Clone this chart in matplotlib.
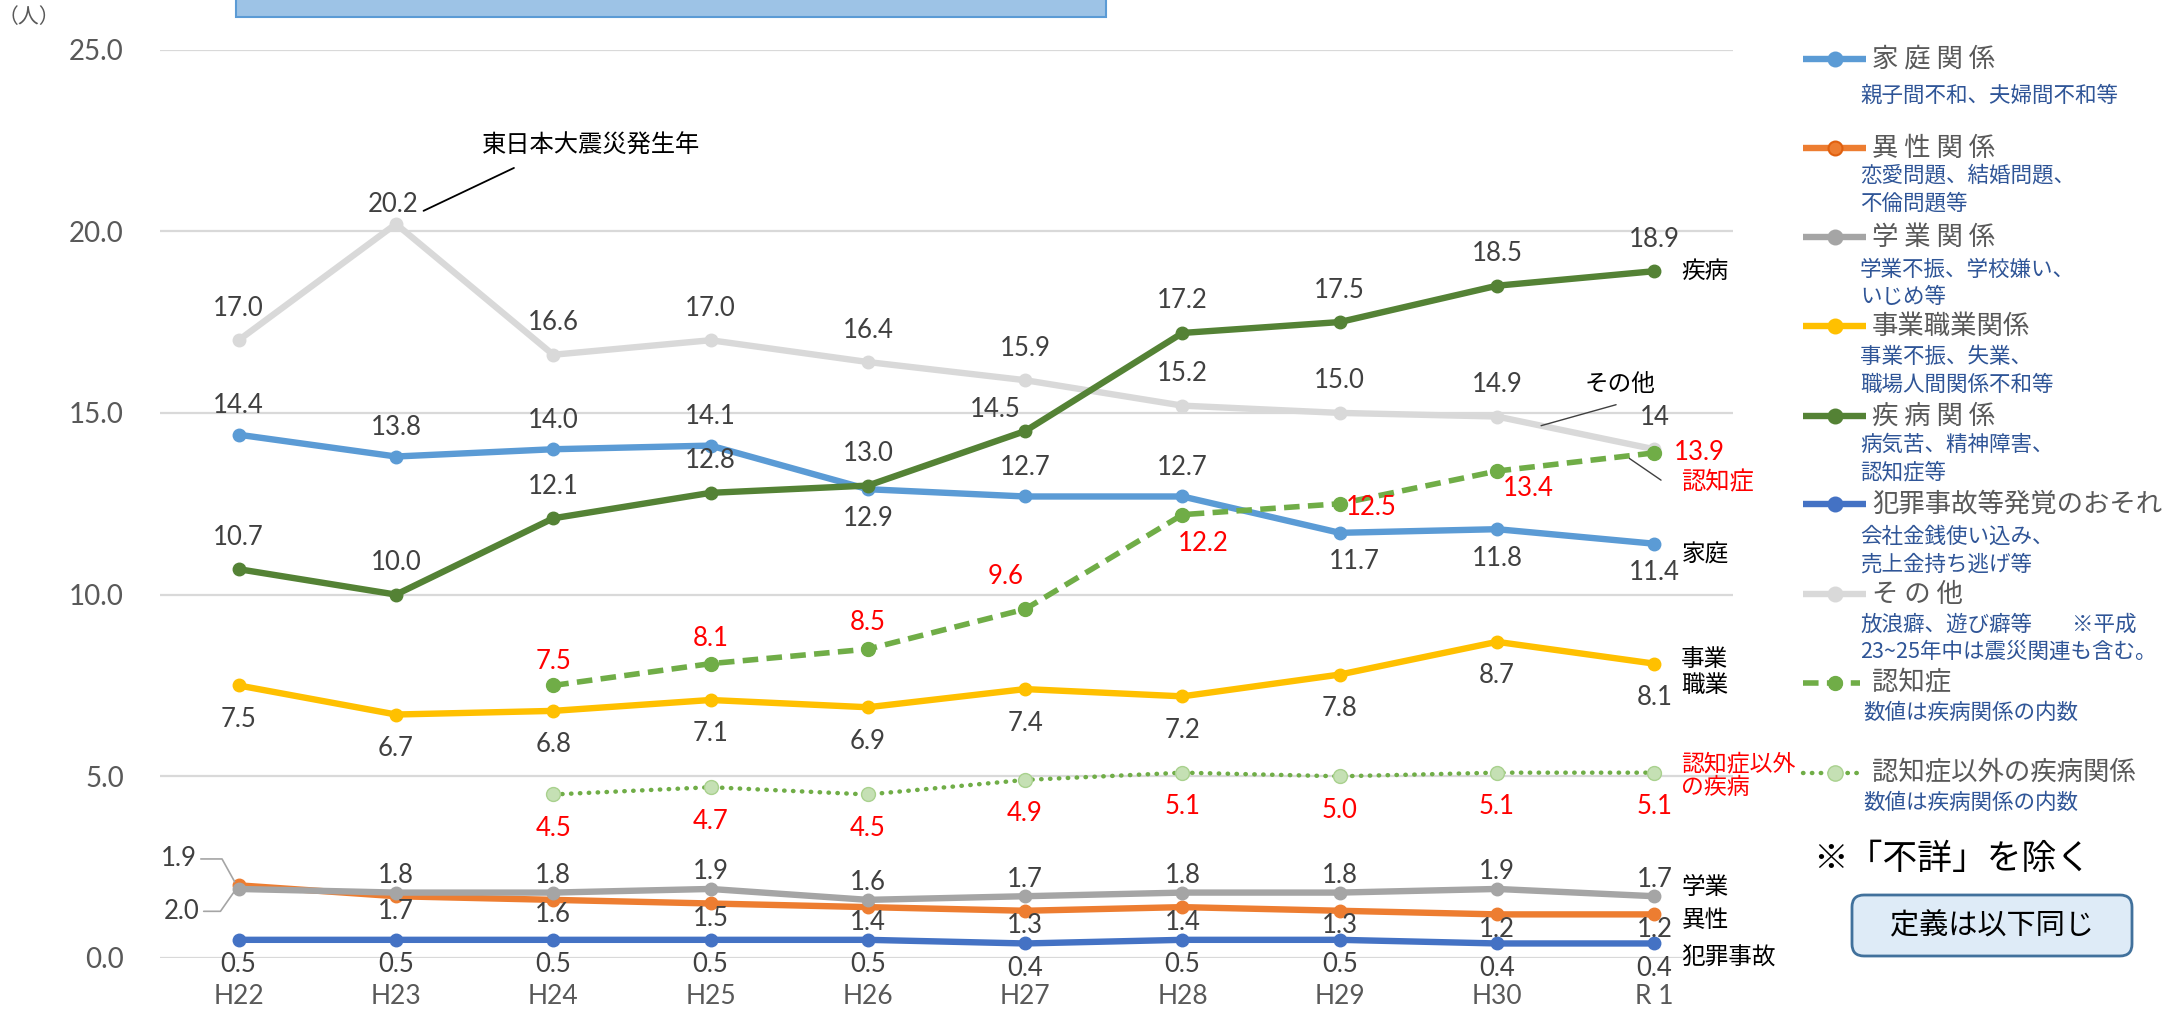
import matplotlib
matplotlib.use("Agg")
import matplotlib.pyplot as plt
from matplotlib.patches import Rectangle, FancyBboxPatch
import numpy as np

nan = np.nan

# ---- data -------------------------------------------------------------
years = ["H22", "H23", "H24", "H25", "H26", "H27", "H28", "H29", "H30", "R 1"]
family = [14.4, 13.8, 14.0, 14.1, 12.9, 12.7, 12.7, 11.7, 11.8, 11.4]
romance = [2.0, 1.7, 1.6, 1.5, 1.4, 1.3, 1.4, 1.3, 1.2, 1.2]
school = [1.9, 1.8, 1.8, 1.9, 1.6, 1.7, 1.8, 1.8, 1.9, 1.7]
work = [7.5, 6.7, 6.8, 7.1, 6.9, 7.4, 7.2, 7.8, 8.7, 8.1]
illness = [10.7, 10.0, 12.1, 12.8, 13.0, 14.5, 17.2, 17.5, 18.5, 18.9]
crime = [0.5, 0.5, 0.5, 0.5, 0.5, 0.4, 0.5, 0.5, 0.4, 0.4]
other = [17.0, 20.2, 16.6, 17.0, 16.4, 15.9, 15.2, 15.0, 14.9, 14.0]
dementia = [nan, nan, 7.5, 8.1, 8.5, 9.6, 12.2, 12.5, 13.4, 13.9]
non_dementia = [nan, nan, 4.5, 4.7, 4.5, 4.9, 5.1, 5.0, 5.1, 5.1]

y_ticks = [0, 5, 10, 15, 20, 25]

# ---- fonts / colours --------------------------------------------------
JP = ["Noto Sans CJK JP", "DejaVu Sans"]
NUM = ["Lato", "Noto Sans CJK JP", "DejaVu Sans"]
plt.rcParams["font.family"] = JP

C_FAMILY = "#5B9BD5"
C_ROMANCE = "#ED7D31"
C_SCHOOL = "#A5A5A5"
C_WORK = "#FFC000"
C_ILL = "#548235"
C_CRIME = "#4472C4"
C_OTHER = "#D9D9D9"
C_DEM = "#70AD47"
C_NONDEM = "#A9D18E"
LABEL_GRAY = "#404040"
TICK_GRAY = "#595959"
SUB_BLUE = "#2F5597"
RED = "#FF0000"

NUM_SIZE = 18.5

W, H = 2176, 1014
fig = plt.figure(figsize=(W / 100, H / 100), dpi=100)
ax = fig.add_axes([160 / W, 1 - 958 / H, (1733 - 160) / W, (958 - 49.5) / H])

x = np.arange(len(years))
LW = 4.6
MS = 9

series = [
    # values, colour, zorder
    (other, C_OTHER, 2),
    (family, C_FAMILY, 3),
    (romance, C_ROMANCE, 3),
    (work, C_WORK, 3),
    (crime, C_CRIME, 3),
    (school, C_SCHOOL, 4),
    (illness, C_ILL, 5),
]
for vals, col, z in series:
    ax.plot(x, vals, color=col, lw=LW, marker="o", ms=MS, mfc=col, mec=col,
            zorder=z, solid_capstyle="round", solid_joinstyle="round")

ax.plot(x, dementia, color=C_DEM, lw=4.0, ls=(0, (2.8, 1.5)), marker="o",
        ms=MS + 1, mfc=C_DEM, mec=C_DEM, zorder=6)
ax.plot(x, non_dementia, color=C_DEM, lw=3.2, ls=(0, (0.1, 1.9)),
        dash_capstyle="round", marker="o", ms=MS + 1, mfc="#C5E0B4",
        mec=C_NONDEM, zorder=6)

ax.set_xlim(-0.5, len(years) - 0.5)
ax.set_ylim(0, 25)
ax.set_yticks(y_ticks)
ax.set_yticklabels([f"{t:.1f}" for t in y_ticks], family=NUM, fontsize=20,
                   color=TICK_GRAY)
ax.set_xticks(x)
ax.set_xticklabels(years, family=NUM, fontsize=19, color=TICK_GRAY)
ax.tick_params(axis="y", length=0, pad=26)
ax.tick_params(axis="x", length=0, pad=19)
for s in ax.spines.values():
    s.set_visible(False)
ax.yaxis.grid(True, color="#D9D9D9", lw=1.6)
ax.set_axisbelow(True)
ax.patch.set_alpha(0)


def put(text, i, v, dx, dy, color=LABEL_GRAY, size=NUM_SIZE, fam=NUM, ha="center"):
    ax.annotate(text, xy=(i, v), xytext=(dx, dy), textcoords="offset pixels",
                ha=ha, va="center", fontsize=size, color=color, family=fam,
                zorder=10)


def leader(i, v, dx, dy, color="#404040", lw=1.0, gap=0):
    # thin callout line from a point on a series out to (dx, dy) pixels
    ax.annotate("", xy=(i, v), xytext=(dx, dy), textcoords="offset pixels",
                zorder=9,
                arrowprops=dict(arrowstyle="-", color=color, lw=lw,
                                shrinkA=0, shrinkB=gap))


def fmt(v):
    return f"{v:.1f}"


# 家庭
fam_side = [1, 1, 1, 1, -1, 1, 1, -1, -1, -1]
for i, v in enumerate(family):
    put(fmt(v), i, v, 15 if i == 7 else 0, 29 * fam_side[i])
# 疾病
for i, v in enumerate(illness):
    if i == 5:
        put(fmt(v), i, v, -30, 22)
    else:
        put(fmt(v), i, v, 0, 32)
# その他
for i, v in enumerate(other):
    txt = "14" if i == len(other) - 1 else fmt(v)
    if i == 1:
        put(txt, i, v, -3, 19)
    else:
        put(txt, i, v, 0, 32)
# 事業職業
for i, v in enumerate(work):
    put(fmt(v), i, v, 0, -34)
# 犯罪事故
for i, v in enumerate(crime):
    put(fmt(v), i, v, 0, -25)
# 学業
for i, v in enumerate(school):
    if i == 0:
        ax.annotate(fmt(v), xy=(i, v), xytext=(-60, 30),
                    textcoords="offset pixels", ha="center", va="center",
                    fontsize=NUM_SIZE, color=LABEL_GRAY, family=NUM, zorder=10,
                    arrowprops=dict(arrowstyle="-", color="#A5A5A5", lw=1.2,
                                    shrinkA=1, shrinkB=6, relpos=(1, 0.5),
                                    connectionstyle="angle,angleA=0,angleB=119,rad=0"))
    else:
        put(fmt(v), i, v, 0, 17)
# 異性
for i, v in enumerate(romance):
    if i == 0:
        ax.annotate(fmt(v), xy=(i, v), xytext=(-57, -26),
                    textcoords="offset pixels", ha="center", va="center",
                    fontsize=NUM_SIZE, color=LABEL_GRAY, family=NUM, zorder=10,
                    arrowprops=dict(arrowstyle="-", color="#A5A5A5", lw=1.2,
                                    shrinkA=1, shrinkB=6, relpos=(1, 0.5),
                                    connectionstyle="angle,angleA=0,angleB=235,rad=0"))
    else:
        put(fmt(v), i, v, 0, -15)
# 認知症
dem_off = {2: (0, 24), 3: (0, 25), 4: (0, 27), 5: (-20, 33), 6: (21, -29),
           7: (32, -4), 8: (31, -17), 9: (45, 0)}
for i, v in enumerate(dementia):
    if not np.isnan(v):
        put(fmt(v), i, v, *dem_off[i], color=RED)
# 認知症以外
for i, v in enumerate(non_dementia):
    if not np.isnan(v):
        put(fmt(v), i, v, 0, -34, color=RED)

# series names at the right end
last = len(years) - 1
put("疾病", last, illness[last], 27, 0, color="black", fam=JP, ha="left", size=17)
put("家庭", last, family[last], 27, -11, color="black", fam=JP, ha="left", size=17)
ax.annotate("事業\n職業", xy=(last, work[last]), xytext=(27, -9),
            textcoords="offset pixels", ha="left", va="center", fontsize=17,
            color="black", family=JP, linespacing=1.15, zorder=10)
put("学業", last, school[last], 27, 9, color="black", fam=JP, ha="left", size=17)
put("異性", last, romance[last], 27, -6, color="black", fam=JP, ha="left", size=17)
put("犯罪事故", last, crime[last], 27, -15, color="black", fam=JP, ha="left", size=17)
ax.annotate("認知症以外\nの疾病", xy=(last, non_dementia[last]), xytext=(27, -3),
            textcoords="offset pixels", ha="left", va="center", fontsize=16.5,
            color=RED, family=JP, linespacing=1.05, zorder=10)

# callouts with leader lines
t_other = 0.28
xo = last - 1 + t_other
yo = other[last - 1] + t_other * (other[last] - other[last - 1])
leader(xo, yo, 75, 21)
put("その他", xo, yo, 79, 41, color="black", fam=JP, size=17)

t_dem = 0.82
xd = last - 1 + t_dem
yd = dementia[last - 1] + t_dem * (dementia[last] - dementia[last - 1])
leader(xd, yd, 35, -24, gap=3)
put("認知症", xd, yd, 91, -26, color=RED, fam=JP, size=17.5)

leader(1, other[1], 118, 56, color="black", lw=1.3, gap=22)
put("東日本大震災発生年", 1, other[1], 195, 78, color="black", fam=JP, size=17.5)

# ---- overlay for legend and notes (pixel coordinates) ---------------
ov = fig.add_axes([0, 0, 1, 1], zorder=5)
ov.set_xlim(0, W)
ov.set_ylim(H, 0)
ov.axis("off")
ov.patch.set_alpha(0)

ov.add_patch(Rectangle((236, -6), 870, 23, fc="#9DC3E6", ec="#5B9BD5", lw=1.5))
ov.text(29, 17, "（人）", fontsize=15, color=TICK_GRAY, ha="center", va="center")

legend = [
    ("家 庭 関 係", C_FAMILY, 59, ["親子間不和、夫婦間不和等"], [96]),
    ("異 性 関 係", C_ROMANCE, 148, ["恋愛問題、結婚問題、", "不倫問題等"], [175, 203]),
    ("学 業 関 係", C_SCHOOL, 237, ["学業不振、学校嫌い、", "いじめ等"], [270, 297]),
    ("事業職業関係", C_WORK, 326, ["事業不振、失業、", "職場人間関係不和等"], [357, 385]),
    ("疾 病 関 係", C_ILL, 416, ["病気苦、精神障害、", "認知症等"], [445, 472]),
    ("犯罪事故等発覚のおそれ", C_CRIME, 504, ["会社金銭使い込み、", "売上金持ち逃げ等"], [537, 565]),
    ("そ の 他", C_OTHER, 594, ["放浪癖、遊び癖等", "23~25年中は震災関連も含む。"], [625, 652]),
]
for head, col, y, subs, sys_ in legend:
    ov.plot([1803, 1866], [y, y], color=col, lw=LW, solid_capstyle="butt")
    mec = "#E0600F" if col == C_ROMANCE else col
    ov.plot([1835], [y], marker="o", ms=MS + 1, mfc=col, mec=mec, mew=1.5)
    ov.text(1872, y, head, fontsize=19, color=TICK_GRAY, ha="left", va="center")
    for s, sy in zip(subs, sys_):
        ov.text(1860, sy, s, fontsize=15.5, color=SUB_BLUE, ha="left", va="center")
ov.text(2072, 625, "※平成", fontsize=15.5, color=SUB_BLUE, ha="left", va="center")

ov.plot([1803, 1860], [683, 683], color=C_DEM, lw=4.0, ls=(0, (2.8, 1.5)))
ov.plot([1835], [683], marker="o", ms=MS + 1, mfc=C_DEM, mec=C_DEM)
ov.text(1872, 683, "認知症", fontsize=19, color=TICK_GRAY, ha="left", va="center")
ov.text(1863, 713, "数値は疾病関係の内数", fontsize=15.5, color=SUB_BLUE,
        ha="left", va="center")

ov.plot([1803, 1860], [773, 773], color=C_DEM, lw=3.2, ls=(0, (0.1, 1.9)),
        dash_capstyle="round")
ov.plot([1835], [773], marker="o", ms=MS + 2, mfc="#C5E0B4", mec=C_NONDEM)
ov.text(1872, 773, "認知症以外の疾病関係", fontsize=19, color=TICK_GRAY,
        ha="left", va="center")
ov.text(1863, 803, "数値は疾病関係の内数", fontsize=15.5, color=SUB_BLUE,
        ha="left", va="center")

ov.text(1813, 860, "※「不詳」を除く", fontsize=25, color="black", ha="left",
        va="center")
ov.add_patch(FancyBboxPatch((1852, 895), 280, 61,
                            boxstyle="round,pad=0,rounding_size=12",
                            fc="#DEEBF7", ec="#41719C", lw=2))
ov.text(1992, 926, "定義は以下同じ", fontsize=21, color="black", ha="center",
        va="center")

fig.savefig("out.png", dpi=100)
